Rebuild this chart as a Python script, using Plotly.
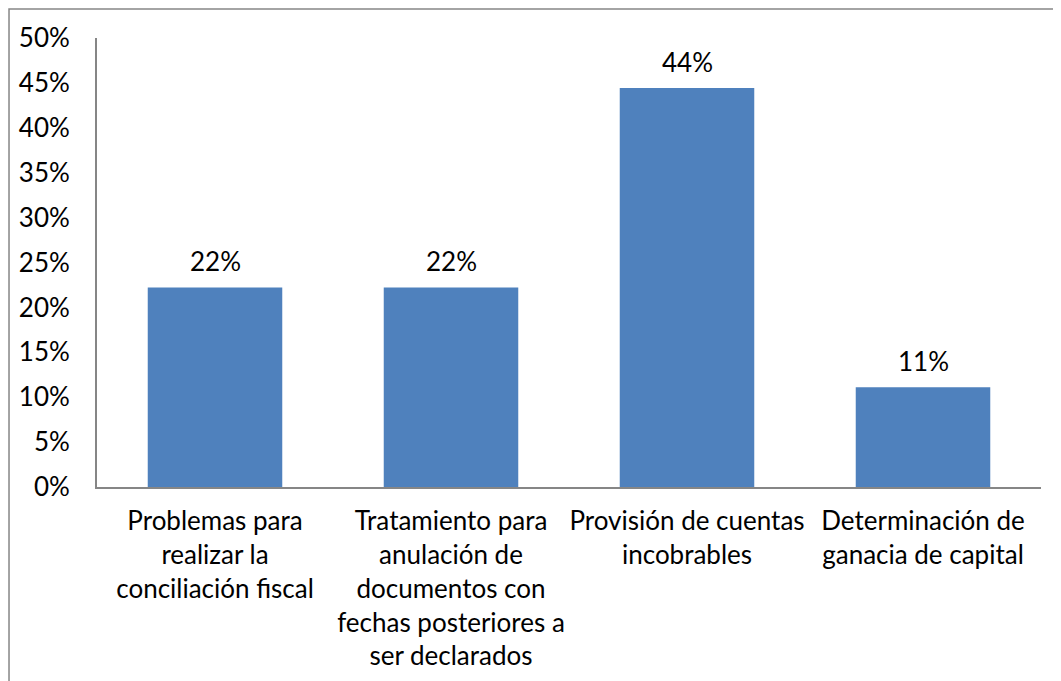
import plotly.graph_objects as go

categorias = [
    'Problemas para<br>realizar la<br>conciliación fiscal',
    'Tratamiento para<br>anulación de<br>documentos con<br>fechas posteriores a<br>ser declarados',
    'Provisión de cuentas<br>incobrables',
    'Determinación de<br>ganacia de capital',
]
valores = [2 / 9, 2 / 9, 4 / 9, 1 / 9]
etiquetas = ['22%', '22%', '44%', '11%']

fuente = 'Lato, Open Sans, sans-serif'

fig = go.Figure()
fig.add_trace(go.Bar(
    x=categorias,
    y=valores,
    marker=dict(color='#4F81BD', line=dict(width=0)),
    hoverinfo='skip',
))

for c, v, t in zip(categorias, valores, etiquetas):
    fig.add_annotation(
        x=c, y=v, text=t, showarrow=False,
        yanchor='bottom', yshift=8,
        font=dict(size=26, color='#000000', family=fuente),
    )

# borde del área del gráfico (solo se ven lado izquierdo y superior)
fig.add_shape(
    type='rect', xref='paper', yref='paper',
    x0=-0.0932, x1=1.2, y0=-0.6, y1=1.0646,
    line=dict(color='#868686', width=1.5),
    fillcolor='rgba(0,0,0,0)', layer='below',
)

fig.update_layout(
    width=1061,
    height=681,
    margin=dict(t=30, b=202, l=89, r=28),
    paper_bgcolor='white',
    plot_bgcolor='white',
    bargap=0.43,
    showlegend=False,
    font=dict(family=fuente, size=26, color='#000000'),
    xaxis=dict(
        showline=True, linecolor='#868686', linewidth=2,
        showgrid=False, ticks='', ticklabelstandoff=10,
        tickfont=dict(size=26),
    ),
    yaxis=dict(
        range=[0, 0.5], dtick=0.05, tickformat='.0%',
        showline=True, linecolor='#868686', linewidth=2,
        showgrid=False, zeroline=False, ticks='',
        ticklabelstandoff=20, tickfont=dict(size=26),
    ),
)

fig.write_html('out.html')
